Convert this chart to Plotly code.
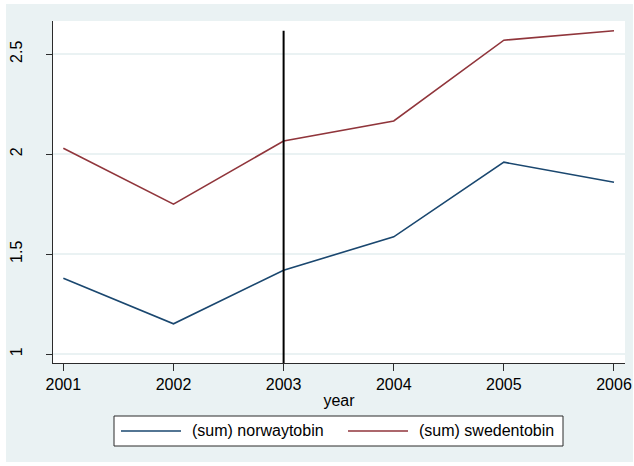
import plotly.graph_objects as go

# Annual sums by country
years = [2001, 2002, 2003, 2004, 2005, 2006]
norway_tobin = [1.38, 1.152, 1.42, 1.587, 1.96, 1.86]
sweden_tobin = [2.03, 1.75, 2.066, 2.166, 2.57, 2.617]
series_names = ["(sum) norwaytobin", "(sum) swedentobin"]
y_ticks = [1, 1.5, 2, 2.5]
y_tick_text = ["1", "1.5", "2", "2.5"]
marker_year = 2003

NAVY = "#1A476F"
MAROON = "#90353B"
BG = "#EAF2F3"
AXIS = "#2b2b2b"
FONT = "Liberation Sans, Arial, sans-serif"

W, H = 634, 466
ML, MR, MT, MB = 53, 9, 21, 103
PW, PH = W - ML - MR, H - MT - MB


def px_x(px):
    return (px - ML) / PW


def px_y(py):
    return (H - MB - py) / PH


fig = go.Figure()
fig.add_trace(go.Scatter(x=years, y=norway_tobin, mode="lines", name=series_names[0],
                         line=dict(color=NAVY, width=1.6), showlegend=False))
fig.add_trace(go.Scatter(x=years, y=sweden_tobin, mode="lines", name=series_names[1],
                         line=dict(color=MAROON, width=1.6), showlegend=False))

y_range = [0.956, 2.666]

shapes = [
    # graph region background
    dict(type="rect", xref="paper", yref="paper", layer="below",
         x0=px_x(6), x1=px_x(633), y0=px_y(462), y1=px_y(4),
         fillcolor=BG, line=dict(width=0)),
    # plot region
    dict(type="rect", xref="paper", yref="paper", layer="below",
         x0=0, x1=1, y0=0, y1=1, fillcolor="white", line=dict(width=0)),
    # reference line at the marker year, up to the top of the data
    dict(type="line", xref="x", yref="y", layer="above",
         x0=marker_year, x1=marker_year, y0=y_range[0], y1=max(sweden_tobin),
         line=dict(color="black", width=2)),
    # legend box
    dict(type="rect", xref="paper", yref="paper",
         x0=px_x(114), x1=px_x(563), y0=px_y(446), y1=px_y(416),
         fillcolor="white", line=dict(color=AXIS, width=1)),
    dict(type="line", xref="paper", yref="paper",
         x0=px_x(121), x1=px_x(181), y0=px_y(431), y1=px_y(431),
         line=dict(color=NAVY, width=1.6)),
    dict(type="line", xref="paper", yref="paper",
         x0=px_x(348), x1=px_x(408), y0=px_y(431), y1=px_y(431),
         line=dict(color=MAROON, width=1.6)),
]

annotations = [
    dict(xref="paper", yref="paper", x=px_x(190), y=px_y(431), text=series_names[0],
         showarrow=False, xanchor="left", yanchor="middle",
         font=dict(family=FONT, size=16, color="black")),
    dict(xref="paper", yref="paper", x=px_x(417), y=px_y(431), text=series_names[1],
         showarrow=False, xanchor="left", yanchor="middle",
         font=dict(family=FONT, size=16, color="black")),
]

fig.update_layout(
    width=W, height=H,
    margin=dict(l=ML, r=MR, t=MT, b=MB, autoexpand=False),
    paper_bgcolor="white",
    plot_bgcolor="rgba(0,0,0,0)",
    font=dict(family=FONT, size=16, color="black"),
    shapes=shapes,
    annotations=annotations,
    showlegend=False,
)

fig.update_xaxes(
    range=[2000.906, 2006.1],
    automargin=False,
    tickmode="array", tickvals=years, ticktext=[str(y) for y in years],
    showgrid=False, zeroline=False,
    showline=True, linecolor=AXIS, linewidth=1.2,
    ticks="outside", ticklen=7, tickwidth=1.2, tickcolor=AXIS,
    tickfont=dict(family=FONT, size=16, color="black"),
    title=dict(text="year", standoff=2, font=dict(family=FONT, size=16, color="black")),
)

fig.update_yaxes(
    range=y_range,
    automargin=False,
    tickmode="array", tickvals=y_ticks, ticktext=y_tick_text,
    tickangle=-90,
    showgrid=True, gridcolor=BG, gridwidth=1.5,
    zeroline=False,
    showline=True, linecolor=AXIS, linewidth=1.2,
    ticks="outside", ticklen=6, tickwidth=1.2, tickcolor=AXIS,
    ticklabelstandoff=18,
    tickfont=dict(family=FONT, size=16, color="black"),
)

fig.write_html("out.html")
